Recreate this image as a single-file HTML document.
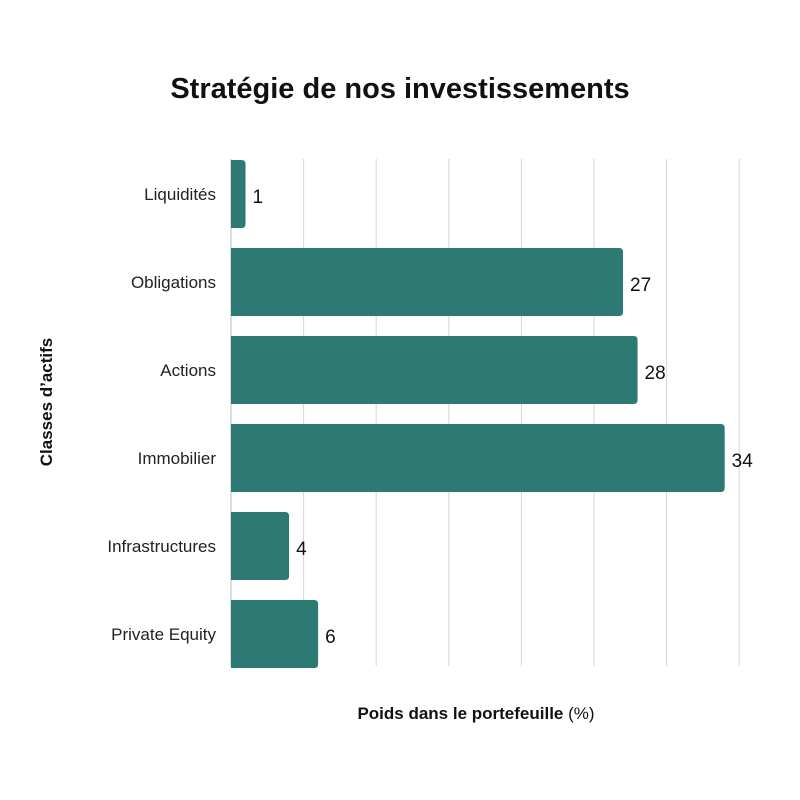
<!DOCTYPE html>
<html><head><meta charset="utf-8"><style>
body{margin:0;background:#fff}
svg{display:block;font-family:"Liberation Sans",sans-serif}
</style></head><body>
<svg id="chart" width="800" height="800">
<rect width="800" height="800" fill="#fff"/>
<text x="400" y="98" text-anchor="middle" font-size="29" font-weight="bold" fill="#111">Stratégie de nos investissements</text>
<text transform="translate(52,402) rotate(-90)" text-anchor="middle" font-size="17" font-weight="bold" fill="#111">Classes d’actifs</text>
<text x="476" y="719" text-anchor="middle" font-size="17" fill="#111"><tspan font-weight="bold">Poids dans le portefeuille</tspan> (%)</text>
<g id="grid"></g><g id="bars"></g>
</svg>
<script>
const categories=["Liquidités","Obligations","Actions","Immobilier","Infrastructures","Private Equity"];
const values=[1,27,28,34,4,6];
const ticks=[0,5,10,15,20,25,30,35];
const NS="http://www.w3.org/2000/svg";
const x=v=>231+v*14.52;
const bandTop=i=>160+i*88;
const barH=68;
const grid=document.getElementById('grid'),bars=document.getElementById('bars');
ticks.forEach(t=>{
 const l=document.createElementNS(NS,'line');
 
 
 l.setAttribute('x1',x(t));l.setAttribute('x2',x(t));
 l.setAttribute('y1',159);l.setAttribute('y2',666);
 l.setAttribute('stroke',t===0?'#dcdcdc':'#d6d6d6');l.setAttribute('stroke-width',t===0?2:1);
 grid.appendChild(l);
});
categories.forEach((c,i)=>{
 const y0=bandTop(i),x1=x(values[i]),r=4,w=x1-231;
 const p=document.createElementNS(NS,'path');
 
 
 p.setAttribute('d',`M231,${y0}H${x1-r}Q${x1},${y0} ${x1},${y0+r}V${y0+barH-r}Q${x1},${y0+barH} ${x1-r},${y0+barH}H231Z`);
 p.setAttribute('fill','#2d7a74');
 bars.appendChild(p);
 const lab=document.createElementNS(NS,'text');
 
 
 lab.setAttribute('x',216);lab.setAttribute('y',y0+barH/2+6);
 lab.setAttribute('text-anchor','end');lab.setAttribute('font-size',17);lab.setAttribute('fill','#222');
 lab.textContent=c;bars.appendChild(lab);
 const v=document.createElementNS(NS,'text');
 
 
 v.setAttribute('x',x1+7);v.setAttribute('y',y0+barH/2+9);
 v.setAttribute('font-size',19);v.setAttribute('fill','#111');
 v.textContent=values[i];bars.appendChild(v);
});
</script>
</body></html>
